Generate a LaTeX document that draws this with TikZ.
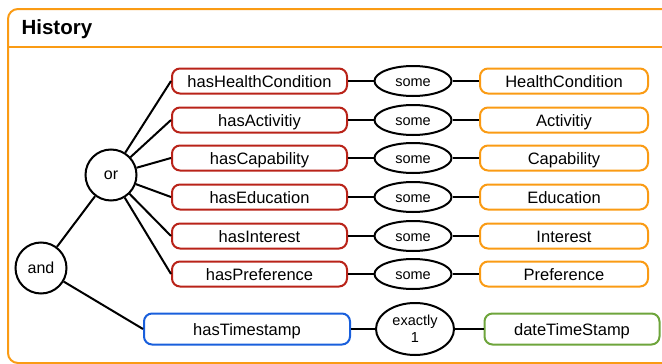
\documentclass[tikz,border=0pt]{standalone}
\usepackage{fontspec}
\setmainfont{Liberation Sans}
\usetikzlibrary{shapes.geometric}
\definecolor{cred}{RGB}{185,35,25}
\definecolor{corange}{RGB}{250,155,20}
\definecolor{cblue}{RGB}{25,95,220}
\definecolor{cgreen}{RGB}{110,165,60}
\begin{document}
\begin{tikzpicture}[x=1pt,y=-1pt,
  prop/.style={draw=cred,line width=2pt,rounded corners=8pt,minimum width=175pt,minimum height=25pt,inner sep=0pt,text height=13.5pt,text depth=0pt,font=\fontsize{16.5}{18}\selectfont},
  cls/.style={draw=corange,line width=2pt,rounded corners=8pt,minimum width=168pt,minimum height=25pt,inner sep=0pt,text height=13.5pt,text depth=0pt,font=\fontsize{16.5}{18}\selectfont},
  quant/.style={draw,ellipse,line width=2pt,minimum width=77pt,minimum height=30pt,inner sep=0pt,text height=11pt,text depth=0pt,font=\fontsize{14.5}{16}\selectfont},
  opnode/.style={draw,circle,line width=2pt,minimum size=51pt,inner sep=0pt,font=\fontsize{16}{18}\selectfont},
  conn/.style={line width=2pt}]
\useasboundingbox (0,0) rectangle (662,364);
% frame
\draw[corange,line width=2pt,rounded corners=10pt] (8,363) -- (8,9) -- (700,9) -- (700,363) -- cycle;
\draw[corange,line width=1.6pt] (8,47) -- (662,47);
\node[anchor=west,font=\fontsize{20.5}{22}\selectfont\bfseries] (title) at (18,29) {History};
% nodes
\node[opnode] (and) at (41,268) {and};
\node[opnode] (or) at (111,175) {or};
\foreach \i/\p/\c/\y in {1/hasHealthCondition/HealthCondition/81,
                         2/hasActivitiy/Activitiy/120,
                         3/hasCapability/Capability/158,
                         4/hasEducation/Education/197,
                         5/hasInterest/Interest/236,
                         6/hasPreference/Preference/274}{
  \node[prop] (p\i) at (259.5,\y) {\p};
  \node[quant] (q\i) at (413,\y) {some};
  \node[cls] (c\i) at (564,\y) {\c};
  \draw[conn] (p\i) -- (q\i);
  \draw[conn] (q\i) -- (c\i);
  \draw[conn] (or) -- (p\i.west);
}
\node[prop,draw=cblue,minimum width=206pt,minimum height=31pt] (pt) at (247,329) {hasTimestamp};
\node[quant,minimum width=78pt,minimum height=52pt,align=center,text height=,text depth=,font=\fontsize{14.5}{17}\selectfont] (qt) at (415,329) {exactly\\1};
\node[cls,draw=cgreen,minimum width=175pt,minimum height=31pt] (ct) at (572,329) {dateTimeStamp};
\draw[conn] (pt) -- (qt);
\draw[conn] (qt) -- (ct);
\draw[conn] (and) -- (or);
\draw[conn] (and) -- (pt.west);
\end{tikzpicture}
\end{document}
